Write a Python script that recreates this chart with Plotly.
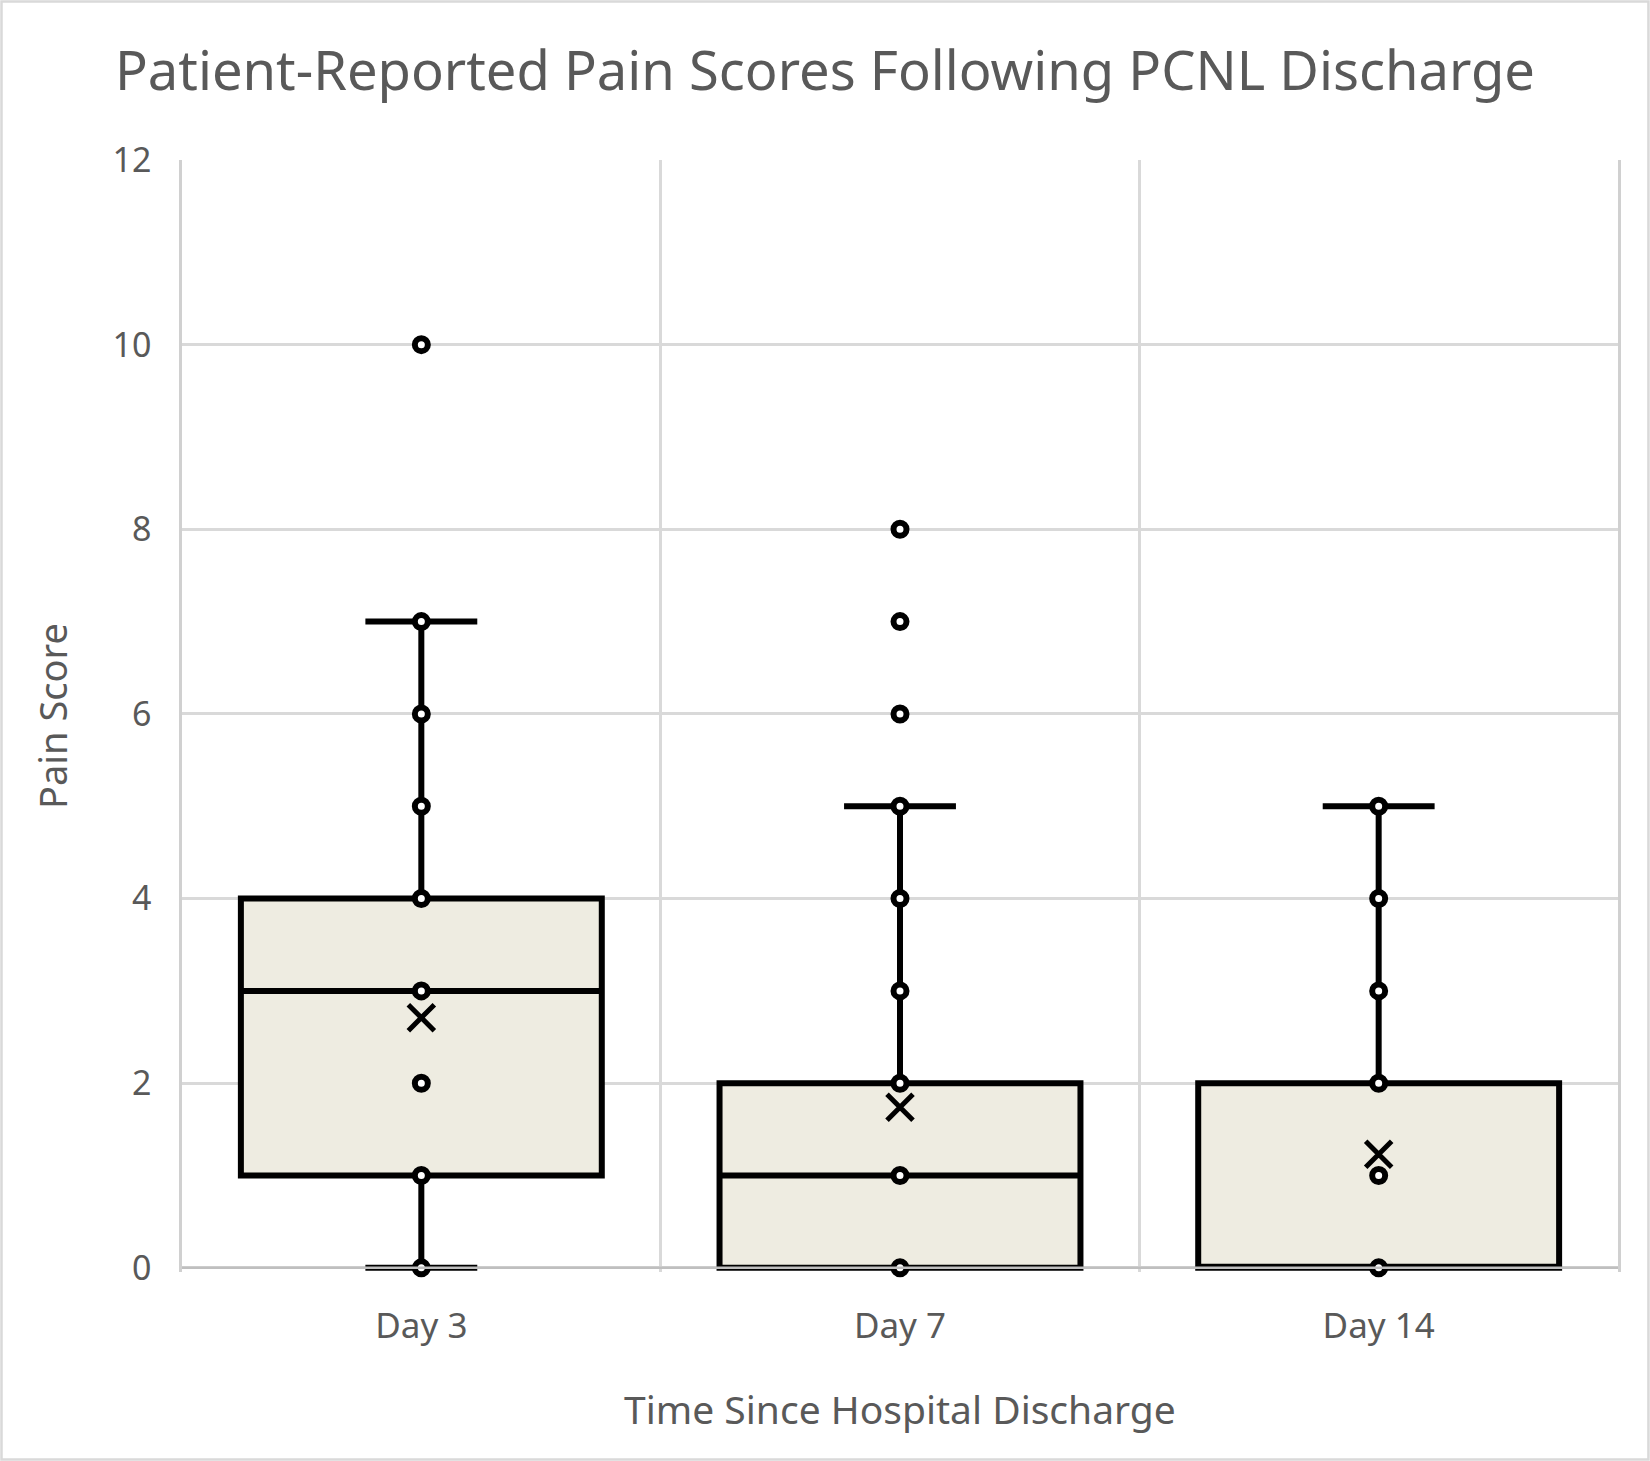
import plotly.graph_objects as go

# Zeitpunkte und Boxplot-Kennwerte
days = ['Day 3', 'Day 7', 'Day 14']
q1 = [1, 0, 0]
median = [3, 1, 0]
q3 = [4, 2, 2]
lower_fence = [0, 0, 0]
upper_fence = [7, 5, 5]
means = [2.71, 1.74, 1.23]

# sichtbare Einzelwerte je Zeitpunkt
points_day3 = [0, 1, 2, 3, 4, 5, 6, 7, 10]
points_day7 = [0, 1, 2, 3, 4, 5, 6, 7, 8]
points_day14 = [0, 1, 2, 3, 4, 5]

y_ticks = [0, 2, 4, 6, 8, 10, 12]

FONT = 'Noto Sans'
GREY = '#595959'

pts_x = ([days[0]] * len(points_day3) + [days[1]] * len(points_day7)
         + [days[2]] * len(points_day14))
pts_y = points_day3 + points_day7 + points_day14

fig = go.Figure()

fig.add_trace(go.Box(
    x=days, q1=q1, median=median, q3=q3,
    lowerfence=lower_fence, upperfence=upper_fence,
    width=0.754, whiskerwidth=0.31,
    fillcolor='#eeece1',
    line=dict(color='black', width=6),
    boxpoints=False, hoverinfo='skip', showlegend=False))

fig.add_trace(go.Scatter(
    x=pts_x, y=pts_y, mode='markers', cliponaxis=False,
    marker=dict(symbol='circle', size=13, color='white',
                line=dict(color='black', width=6)),
    showlegend=False))

fig.add_trace(go.Scatter(
    x=days, y=means, mode='markers', cliponaxis=False,
    marker=dict(symbol='x-thin', size=26,
                line=dict(color='black', width=5)),
    showlegend=False))

fig.update_layout(
    width=1650, height=1461,
    margin=dict(l=182, r=32, t=160, b=189),
    paper_bgcolor='white', plot_bgcolor='white',
    font=dict(family=FONT, color=GREY, size=34),
    title=dict(text='Patient-Reported Pain Scores Following PCNL Discharge',
               x=0.5, xref='container', xanchor='center',
               y=1 - 71 / 1461, yref='container', yanchor='middle',
               font=dict(family=FONT, size=54.3, color=GREY)),
    xaxis=dict(type='category', categoryorder='array', categoryarray=days,
               range=[-0.5, 2.5], tickson='boundaries', showgrid=True,
               gridcolor='#d9d9d9', gridwidth=2.5, ticks='', showline=False,
               zeroline=False, ticklabelstandoff=30,
               tickfont=dict(size=35, color=GREY)),
    yaxis=dict(range=[-0.045, 12], tickvals=y_ticks, showgrid=True,
               gridcolor='#d9d9d9', gridwidth=2.5, zeroline=False,
               showline=True, mirror=True, linecolor='#d0d0d0', linewidth=2.5,
               ticks='', ticklabelstandoff=21, tickfont=dict(size=34, color=GREY)),
    annotations=[
        dict(text='Time Since Hospital Discharge', xref='paper', yref='paper',
             x=0.5, y=0, yanchor='middle', yshift=-136, showarrow=False,
             font=dict(size=39, color=GREY)),
        dict(text='Pain Score', xref='paper', yref='paper', x=0, y=0.5,
             xanchor='center', yanchor='middle', xshift=-130, textangle=-90,
             showarrow=False, font=dict(size=38, color=GREY)),
    ],
    shapes=[
        # x-Achsenlinie bei 0
        dict(type='line', xref='paper', yref='y', x0=0, x1=1, y0=0, y1=0,
             line=dict(color='#bfbfbf', width=2.5), layer='above'),
        # Rahmen um das Diagramm
        dict(type='rect', xref='paper', yref='paper',
             x0=-0.1257, x1=1.0212, y0=-0.1686, y1=1.1425,
             line=dict(color='#d9d9d9', width=2.5), layer='below'),
    ],
)

# Seitenrand des Browsers entfernen, damit das Bild bei 0,0 beginnt
fig.write_html('out.html', config={'displayModeBar': False},
               post_script="document.body.style.margin='0';document.body.style.overflow='hidden';")
